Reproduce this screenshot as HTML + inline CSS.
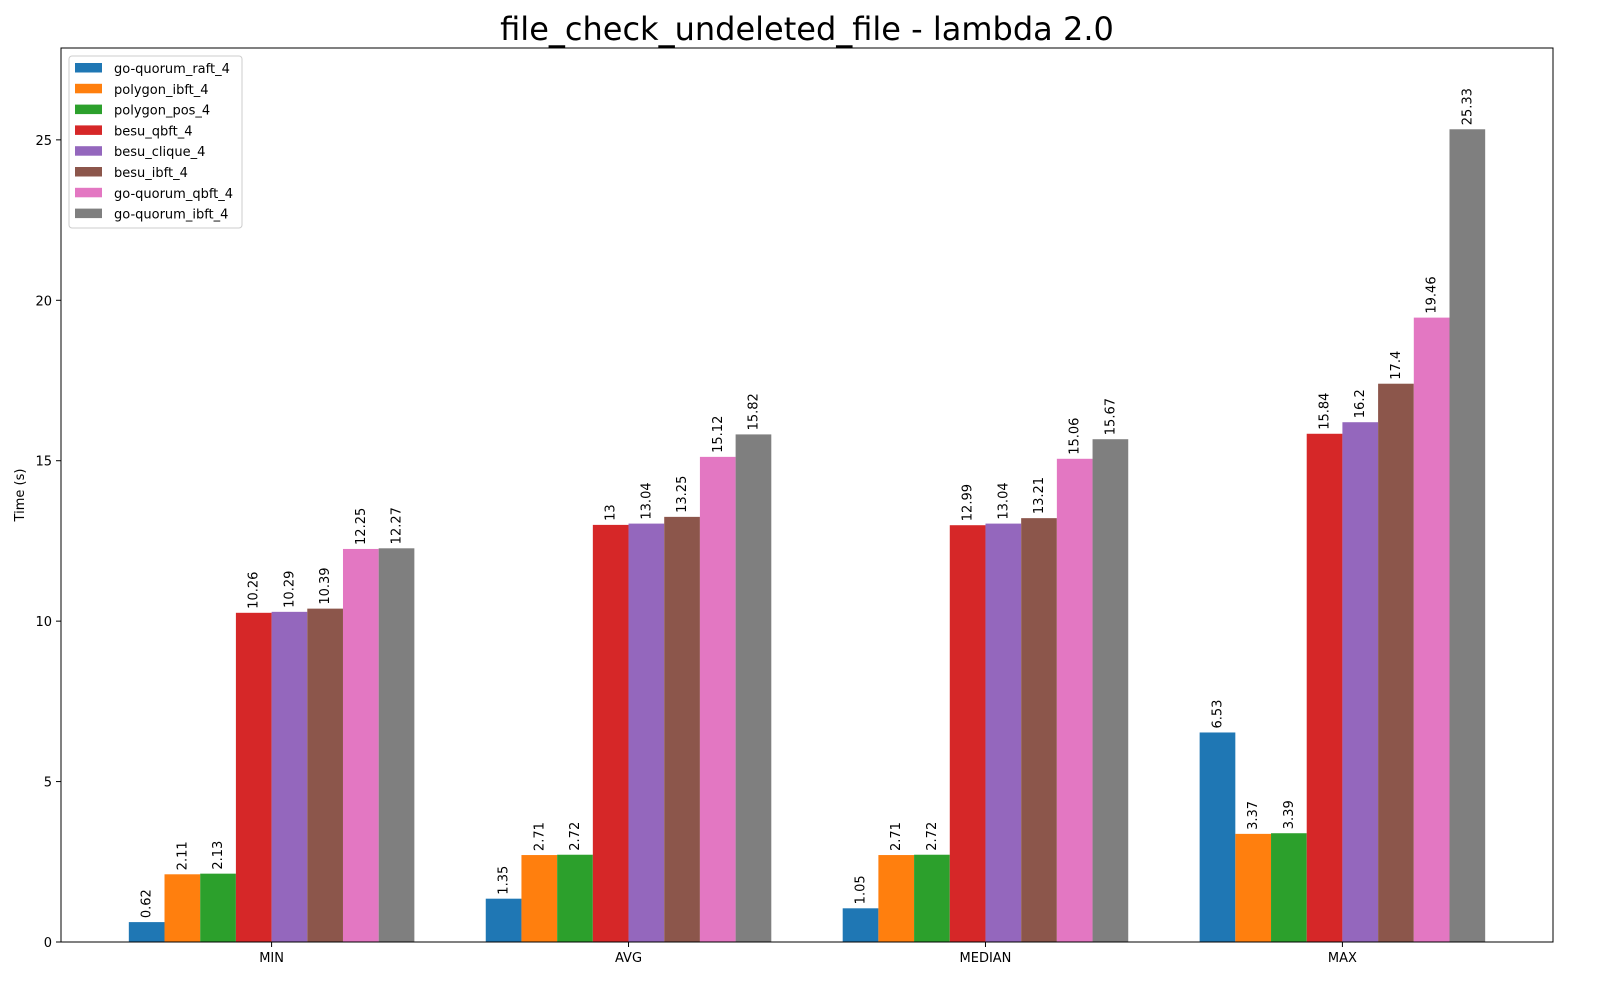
<!DOCTYPE html>
<html><head><meta charset="utf-8"><style>
body{margin:0;background:#fff;font-family:"Liberation Sans","DejaVu Sans",sans-serif}
svg text{font-family:"DejaVu Sans","Liberation Sans",sans-serif}
</style></head><body>
<svg id="chart" width="1600" height="1000" xmlns="http://www.w3.org/2000/svg">
<rect width="1600" height="1000" fill="#fff"/>
<text x="807" y="40" font-size="32" text-anchor="middle">file_check_undeleted_file - lambda 2.0</text>
<g id="plot"></g>
</svg>
<script>
const categories=["MIN","AVG","MEDIAN","MAX"];
const seriesNames=["go-quorum_raft_4","polygon_ibft_4","polygon_pos_4","besu_qbft_4","besu_clique_4","besu_ibft_4","go-quorum_qbft_4","go-quorum_ibft_4"];
const s0=[0.62,1.35,1.05,6.53];
const s1=[2.11,2.71,2.71,3.37];
const s2=[2.13,2.72,2.72,3.39];
const s3=[10.26,13,12.99,15.84];
const s4=[10.29,13.04,13.04,16.2];
const s5=[10.39,13.25,13.21,17.4];
const s6=[12.25,15.12,15.06,19.46];
const s7=[12.27,15.82,15.67,25.33];
const yTicks=[0,5,10,15,20,25];
const series=[s0,s1,s2,s3,s4,s5,s6,s7];
const colors=["#1f77b4","#ff7f0e","#2ca02c","#d62728","#9467bd","#8c564b","#e377c2","#7f7f7f"];
const L=61,R=1553,T=48,B=942;
const allMax=Math.max(...series.flat());
const yMax=allMax*1.1;
const xMin=-0.59,xMax=3.59;
const X=v=>L+(v-xMin)/(xMax-xMin)*(R-L);
const Y=v=>B-v/yMax*(B-T);
const g=document.getElementById('plot');
const NS="http://www.w3.org/2000/svg";
function mk(t,a){const e=document.createElementNS(NS,t);for(const k in a)e.setAttribute(k,a[k]);g.appendChild(e);return e;}
const bw=0.1;
series.forEach((s,i)=>{s.forEach((v,j)=>{
 const xc=j+(i-3.5)*bw;
 const r=mk('rect',{x:X(xc-bw/2),y:Y(v),width:X(xc+bw/2)-X(xc-bw/2),height:Y(0)-Y(v),fill:colors[i]});
 
 
 const tx=X(xc)+4,ty=Y(v)-4;
 const t=mk('text',{x:tx,y:ty,'font-size':13,transform:`rotate(-90 ${tx} ${ty})`});
 t.textContent=String(v);
 
 
});});
const ax=mk('rect',{x:L,y:T,width:R-L,height:B-T,fill:'none',stroke:'#000','stroke-width':1});


yTicks.forEach(v=>{
 mk('line',{x1:L-5,x2:L,y1:Y(v),y2:Y(v),stroke:'#000'});
 const t=mk('text',{x:L-9,y:Y(v)+5,'font-size':13,'text-anchor':'end'});
 t.textContent=v;
 
 
});
categories.forEach((c,j)=>{
 mk('line',{x1:X(j),x2:X(j),y1:B,y2:B+5,stroke:'#000'});
 const t=mk('text',{x:X(j),y:B+20,'font-size':13,'text-anchor':'middle'});
 t.textContent=c;
 
 
});
const yt=mk('text',{x:24,y:495,'font-size':13,'text-anchor':'middle',transform:'rotate(-90 24 495)'});
yt.textContent='Time (s)';


const lb=mk('rect',{x:69,y:56,width:173,height:172,rx:3,fill:'#fff','fill-opacity':0.8,stroke:'#ccc'});


seriesNames.forEach((n,i)=>{
 const y=63+i*20.8;
 const p=mk('rect',{x:75,y:y,width:27,height:9.5,fill:colors[i]});
 
 
 const t=mk('text',{x:114,y:y+10,'font-size':13});
 t.textContent=n;
 
 
});
</script>
</body></html>
